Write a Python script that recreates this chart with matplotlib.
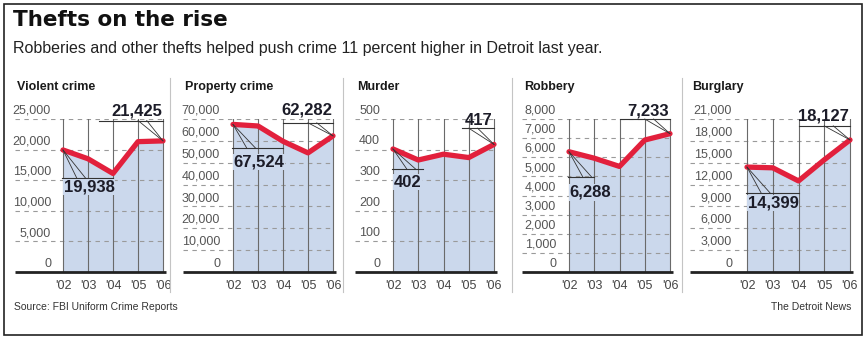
import matplotlib.pyplot as plt
from matplotlib.patches import Rectangle

plt.rcParams['font.family'] = ['Liberation Sans Narrow', 'Liberation Sans', 'DejaVu Sans']

W, H = 866, 339

years = ["'02", "'03", "'04", "'05", "'06"]

violent = [19938, 18500, 16100, 21300, 21425]
property_crime = [67524, 66800, 59800, 54500, 62282]
murder = [402, 366, 385, 374, 417]
robbery = [6288, 5950, 5520, 6900, 7233]
burglary = [14399, 14300, 12500, 15400, 18127]

titles = ["Violent crime", "Property crime", "Murder", "Robbery", "Burglary"]
series = [violent, property_crime, murder, robbery, burglary]
ymaxes = [25000, 70000, 500, 8000, 21000]
ysteps = [5000, 10000, 100, 1000, 3000]
low_labels = ["19,938", "67,524", "402", "6,288", "14,399"]
high_labels = ["21,425", "62,282", "417", "7,233", "18,127"]

# layout in pixels: axes left, x of '02, x of '06, right edge of tick labels
geom = [
    (15, 63, 163, 51),
    (183, 233, 333, 220),
    (355, 393, 494, 380),
    (522, 569, 670, 556),
    (690, 747, 850, 732),
]
# callout styling: low text y, low rule y, low rule end, high text y, high rule y, high rule start
callouts = [
    (0.556, 0.614, 2.0, 1.05, 0.99, 1.45),
    (0.72, 0.81, 2.0, 1.06, 0.975, 2.0),
    (0.588, 0.672, 1.2, 0.99, 0.94, 2.75),
    (0.52, 0.62, 1.0, 1.05, 1.0, 2.0),
    (0.45, 0.516, 2.0, 1.02, 0.955, 2.0),
]

RED = '#e2203c'
FILL = '#cbd8ec'
INK = '#1c1c28'
GRID = '#9a9a9a'

fig = plt.figure(figsize=(W / 100, H / 100), dpi=100)

y0_px, ytop_px = 272, 119


def fx(px):
    return px / W


def fy(px):
    return 1 - px / H


for i in range(5):
    left, x02, x06, lab_r = geom[i]
    vals = series[i]
    ymax = ymaxes[i]
    s = (x06 - x02) / 4
    ax = fig.add_axes([fx(left), fy(y0_px), fx(x06 + 3 - left),
                       (y0_px - ytop_px) / H])
    ax.set_xlim((left - x02) / s, 4 + 3 / s)
    ax.set_ylim(0, ymax)
    ax.axis('off')
    xs = list(range(5))

    ax.fill_between(xs, 0, vals, color=FILL, lw=0, zorder=1)
    ticks = list(range(0, ymax + 1, ysteps[i]))
    for t in ticks[1:]:
        ax.plot([(left - x02) / s, 4], [t, t], color=GRID, lw=0.8,
                ls=(0, (4, 4)), zorder=2)
    for x in xs:
        ax.plot([x, x], [0, ymax], color='#6a6a6a', lw=0.8, zorder=2)
    for t in ticks:
        ax.text((lab_r - x02) / s, t + ymax * 0.015, f"{t:,}", ha='right',
                va='bottom', fontsize=9, color='#555555', zorder=3)
    ax.plot([(left - x02) / s, 4 + 3 / s], [0, 0], color='#222222', lw=2,
            solid_capstyle='butt', zorder=5, clip_on=False)
    ax.plot(xs, vals, color=RED, lw=3.8, solid_joinstyle='round',
            solid_capstyle='round', zorder=6, clip_on=False)
    for x, lab in zip(xs, years):
        ax.text(x, -ymax * 0.055, lab, ha='center', va='top', fontsize=9,
                color='#444444')

    lo_t, lo_l, lo_end, hi_t, hi_l, hi_start = callouts[i]
    # low callout at '02
    ax.plot([-0.05, lo_end], [lo_l * ymax] * 2, color='#333333', lw=0.8,
            zorder=7, clip_on=False)
    for xe in (0.55, 0.9):
        ax.plot([0, xe], [vals[0], lo_l * ymax], color='#333333', lw=0.6,
                zorder=7)
    ax.text(0.02, lo_t * ymax, low_labels[i], ha='left', va='center',
            fontsize=12, fontweight='bold', color=INK, zorder=8,
            bbox=dict(boxstyle='square,pad=0.05', fc=FILL, ec='none'))
    # high callout at '06
    ax.plot([hi_start, 4], [hi_l * ymax] * 2, color='#333333', lw=0.8,
            zorder=7, clip_on=False)
    for xs0 in (3.0, 3.35):
        ax.plot([xs0, 4], [hi_l * ymax, vals[4]], color='#333333', lw=0.6,
                zorder=7, clip_on=False)
    ax.text(3.95, hi_t * ymax, high_labels[i], ha='right', va='center',
            fontsize=12, fontweight='bold', color=INK, zorder=8,
            clip_on=False)

    fig.text(fx(left + 2), fy(87), titles[i], ha='left', va='center',
             fontsize=9, fontweight='bold', color='#1a1a1a')

# panel separators
for xp in (170, 343, 512, 682):
    fig.add_artist(plt.Line2D([fx(xp)] * 2, [fy(78), fy(292)],
                              color='#c4c4c4', lw=0.8))

fig.text(fx(13), fy(20), "Thefts on the rise", ha='left', va='center',
         fontsize=15.5, fontweight='bold', family=['DejaVu Sans'],
         color='#111111')
fig.text(fx(13), fy(49),
         "Robberies and other thefts helped push crime 11 percent higher in Detroit last year.",
         ha='left', va='center', fontsize=11.5, color='#222222',
         family=['Liberation Sans', 'DejaVu Sans'])
fig.text(fx(14), fy(307), "Source: FBI Uniform Crime Reports", ha='left',
         va='center', fontsize=7.5, color='#333333')
fig.text(fx(851), fy(307), "The Detroit News", ha='right', va='center',
         fontsize=7.5, color='#333333')

fig.add_artist(Rectangle((fx(4), fy(335)), fx(858), (335 - 4) / H,
                         fill=False, ec='#222222', lw=1.2))

fig.savefig('out.png', dpi=100)
